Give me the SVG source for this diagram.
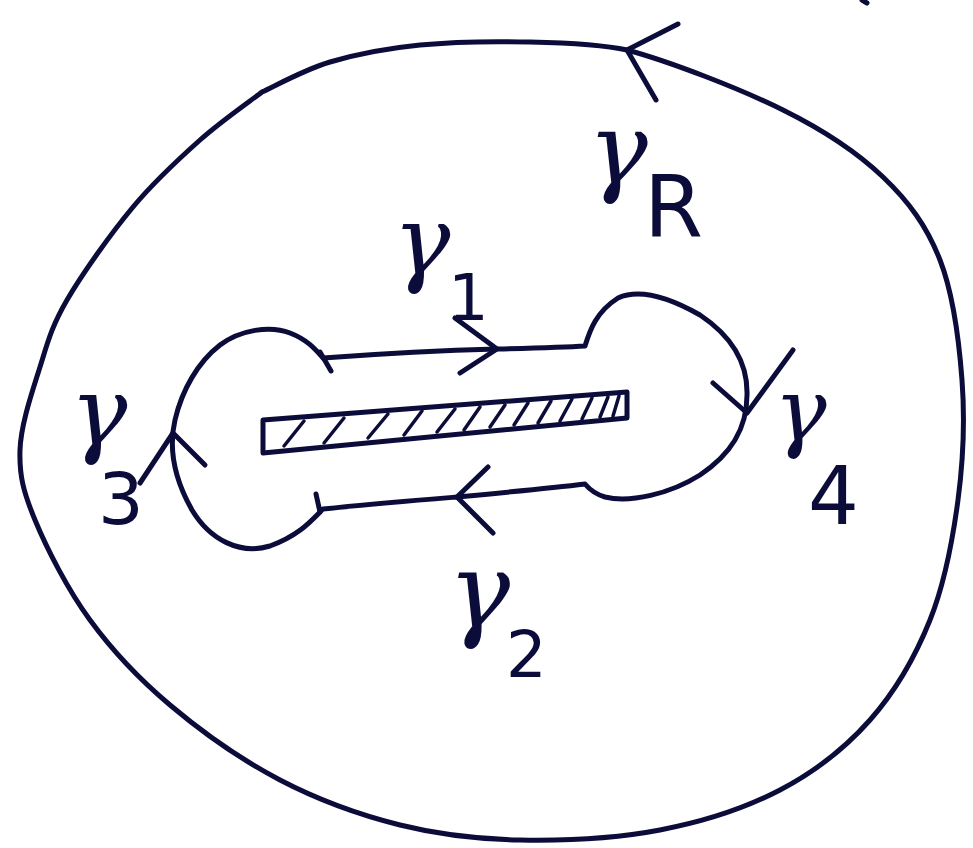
<svg xmlns="http://www.w3.org/2000/svg" width="973" height="848" viewBox="0 0 973 848">
<style>
.ink{fill:none;stroke:#0c0c3a;stroke-width:5;stroke-linecap:round;stroke-linejoin:round}
.thin{fill:none;stroke:#0c0c3a;stroke-width:3.5;stroke-linecap:round;stroke-linejoin:round}
.g{fill:#0c0c3a;font-family:"DejaVu Serif","Liberation Serif",serif;font-style:italic}
.sub{font-family:"DejaVu Sans","Liberation Sans",sans-serif;font-style:normal}
</style>
<rect width="973" height="848" fill="#ffffff"/>
<g id="outer-contour">
<path class="ink" d="M262,92 C273.3,87 303.7,69.8 330,62 C356.3,54.2 386.7,48.3 420,45 C453.3,41.7 495.5,41.2 530,42 C564.5,42.8 600,44 627,50 C669.2,61.3 740.3,88.8 783,110 C825.7,131.2 856.8,152 883,177 C909.2,202 926.8,226.2 940,260 C953.2,293.8 959,340 962,380 C965,420 963.3,460 958,500 C952.7,540 944.7,583.3 930,620 C915.3,656.7 895,691.7 870,720 C845,748.3 815,771.7 780,790 C745,808.3 703.3,821.7 660,830 C616.7,838.3 563.3,840.8 520,840 C476.7,839.2 440,835 400,825 C360,815 318.3,800 280,780 C241.7,760 201.7,731.7 170,705 C138.3,678.3 112.5,650.8 90,620 C67.5,589.2 46.7,548.3 35,520 C23.3,491.7 19.2,475.5 20,450 C20.8,424.5 32.2,392 40,367 C47.8,342 51.5,326.7 67,300 C82.5,273.3 110.8,233.7 133,207 C155.2,180.3 178.5,159.2 200,140 C221.5,120.8 251.7,100 262,92"/>
<path class="ink" d="M862,0 L867,3"/>
</g>
<g id="keyhole-contour">
<path class="ink" d="M323,358 C350,356 420,351 497,349 C540,348 570,347 585,346 C590,330 596,312 618,298 C640,288 670,298 700,315 C730,335 748,360 747,395 C747,430 730,455 700,475 C670,494 630,503 605,497 C595,494 590,490 585,484 C560,487 510,492 457,497 C420,500 370,504 323,509 C312,520 300,535 270,546 C240,555 210,540 192,510 C175,480 168,450 175,420 C182,390 198,362 220,345 C240,330 270,325 290,333 C308,340 316,350 323,358"/>
<path class="ink" d="M320,352 L331,371"/>
<path class="ink" d="M316,494 L320,512"/>
</g>
<g id="slit">
<path class="ink" d="M263,420 L627,392 L627,418 L263,453 Z"/>
<g class="thin">
<path d="M284,446 L304,421"/>
<path d="M324,443 L344,418"/>
<path d="M368,438 L388,414"/>
<path d="M404,435 L422,411"/>
<path d="M437,432 L455,409"/>
<path d="M464,430 L480,407"/>
<path d="M490,427 L505,405"/>
<path d="M514,425 L528,403"/>
<path d="M538,423 L551,401"/>
<path d="M560,421 L572,399"/>
<path d="M582,419 L592,398"/>
<path d="M600,417 L608,397"/>
<path d="M613,416 L619,396"/>
</g>
</g>
<g id="connectors">
<path class="ink" d="M678,24 L627,50 L656,100"/>
<path class="ink" d="M455,318 L497,349 L460,373"/>
<path class="ink" d="M488,467 L457,497 L493,533"/>
<path class="ink" d="M140,483 L173,433 L205,465"/>
<path class="ink" d="M713,383 L747,413 L793,350"/>
</g>
<g id="label-gR"><text class="g" x="588" y="183" font-size="100">γ<tspan class="sub" x="644" y="236" font-size="85">R</tspan></text></g>
<g id="label-g1"><text class="g" x="393" y="274" font-size="96">γ<tspan class="sub" x="448" y="320" font-size="64">1</tspan></text></g>
<g id="label-g2"><text class="g" x="448" y="627" font-size="104">γ<tspan class="sub" x="506" y="677" font-size="64">2</tspan></text></g>
<g id="label-g3"><text class="g" x="70" y="445" font-size="96">γ<tspan class="sub" x="98" y="524" font-size="72">3</tspan></text></g>
<g id="label-g4"><text class="g" x="774" y="441" font-size="88">γ<tspan class="sub" x="808" y="524" font-size="80">4</tspan></text></g>
</svg>
